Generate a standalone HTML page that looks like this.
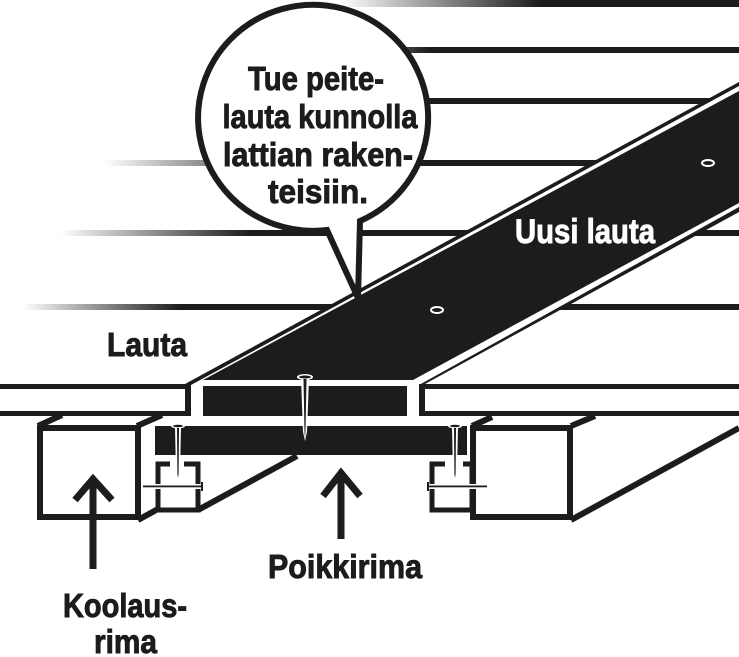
<!DOCTYPE html>
<html><head><meta charset="utf-8"><style>
html,body{margin:0;padding:0;background:#fff;}
svg{display:block;}
text{font-family:"Liberation Sans Narrow","Liberation Sans",sans-serif;font-weight:bold;}
</style></head><body>
<svg width="739" height="657" viewBox="0 0 739 657" xmlns="http://www.w3.org/2000/svg">
<defs>
<linearGradient id="g0" gradientUnits="userSpaceOnUse" x1="340" y1="0" x2="540" y2="0"><stop offset="0" stop-color="#fff"/><stop offset="1" stop-color="#1e1b1c"/></linearGradient>
<linearGradient id="g1" gradientUnits="userSpaceOnUse" x1="280" y1="0" x2="430" y2="0"><stop offset="0" stop-color="#fff"/><stop offset="1" stop-color="#1e1b1c"/></linearGradient>
<linearGradient id="g3" gradientUnits="userSpaceOnUse" x1="105" y1="0" x2="300" y2="0"><stop offset="0" stop-color="#fff"/><stop offset="1" stop-color="#1e1b1c"/></linearGradient>
<linearGradient id="g4" gradientUnits="userSpaceOnUse" x1="60" y1="0" x2="250" y2="0"><stop offset="0" stop-color="#fff"/><stop offset="1" stop-color="#1e1b1c"/></linearGradient>
<linearGradient id="g5" gradientUnits="userSpaceOnUse" x1="22" y1="0" x2="180" y2="0"><stop offset="0" stop-color="#fff"/><stop offset="1" stop-color="#1e1b1c"/></linearGradient>
</defs>
<g fill="#1e1b1c">
<rect x="330" y="0" width="409" height="7" fill="url(#g0)"/>
<rect x="280" y="47" width="459" height="6" fill="url(#g1)"/>
<rect x="300" y="98" width="439" height="6" fill="url(#g1)"/>
<rect x="105" y="160" width="634" height="6" fill="url(#g3)"/>
<rect x="60" y="230" width="679" height="6" fill="url(#g4)"/>
<rect x="22" y="304" width="717" height="6" fill="url(#g5)"/>
</g>
<polygon points="185,416 185,384 739,82 739,212 425,384 425,416" fill="#1e1b1c"/>
<polygon points="191,416 191,385 739,86 739,207 419,385 419,416" fill="#fff"/>
<polygon points="203,380 739,91 739,203 413,380" fill="#1e1b1c"/>
<rect x="203" y="386" width="204" height="30" fill="#1e1b1c"/>
<g fill="#1e1b1c">
<rect x="0" y="384" width="191" height="5"/>
<rect x="0" y="411" width="191" height="5"/>
<rect x="419" y="384" width="320" height="5"/>
<rect x="419" y="411" width="320" height="5"/>
<rect x="419" y="384" width="6" height="32"/>
</g>
<ellipse cx="708" cy="163" rx="6" ry="3" fill="#1e1b1c" stroke="#fff" stroke-width="2"/>
<ellipse cx="437" cy="310" rx="6" ry="3" fill="#1e1b1c" stroke="#fff" stroke-width="2"/>
<g fill="none" stroke="#1e1b1c" stroke-width="6">
<rect x="40" y="428" width="98" height="89"/>
<line x1="38" y1="426" x2="62" y2="415"/>
<line x1="137" y1="426" x2="162" y2="415"/>
<line x1="138" y1="520" x2="158" y2="509"/>
<line x1="198" y1="510" x2="297" y2="456"/>
<rect x="473" y="428" width="97" height="89"/>
<line x1="472" y1="426" x2="492" y2="417"/>
<line x1="571" y1="426" x2="595" y2="416"/>
<line x1="571" y1="520" x2="739" y2="428"/>
<path d="M170 464 H158 V510 H198 V464 H184" stroke-width="5"/>
<path d="M445 464 H432 V510 H472 V464 H463" stroke-width="5"/>
</g>
<rect x="155" y="426" width="312" height="29" fill="#1e1b1c"/>
<g>
<path d="M301 378 L309 378 L307 432 L305 441 L303 432 Z" fill="#fff"/>
<ellipse cx="305" cy="377" rx="8" ry="3" fill="#fff"/>
<path d="M303.5 379 L306.5 379 L305.5 432 L305 438 L304.5 432 Z" fill="#1e1b1c"/>
<ellipse cx="305" cy="377" rx="6" ry="1.5" fill="#1e1b1c"/>
<path d="M175 427 L181 427 L180 474 L178 481 L176 474 Z" fill="#fff"/>
<ellipse cx="178" cy="426" rx="7" ry="2.5" fill="#fff"/>
<path d="M177 428 L179 428 L178.6 474 L178 478 L177.4 474 Z" fill="#1e1b1c"/>
<ellipse cx="178" cy="426" rx="5" ry="1.2" fill="#1e1b1c"/>
<rect x="143" y="484" width="60" height="5" fill="#fff"/>
<rect x="143" y="485.5" width="58" height="1.8" fill="#1e1b1c"/>
<rect x="201" y="482" width="2" height="9" fill="#1e1b1c"/>
<path d="M452 427 L458 427 L457 474 L455 481 L453 474 Z" fill="#fff"/>
<ellipse cx="455" cy="426" rx="7" ry="2.5" fill="#fff"/>
<path d="M454 428 L456 428 L455.6 474 L455 478 L454.4 474 Z" fill="#1e1b1c"/>
<ellipse cx="455" cy="426" rx="5" ry="1.2" fill="#1e1b1c"/>
<rect x="427" y="484" width="60" height="5" fill="#fff"/>
<rect x="429" y="485.5" width="58" height="1.8" fill="#1e1b1c"/>
<rect x="427" y="482" width="2" height="9" fill="#1e1b1c"/>
</g>
<g fill="none" stroke="#1e1b1c" stroke-width="7">
<line x1="93" y1="480" x2="93" y2="569"/>
<polyline points="75,500 93,479 112,500"/>
<line x1="341" y1="473" x2="341" y2="539"/>
<polyline points="323,496 341,473 360,496"/>
</g>
<path d="M327 230 A115 113 0 1 1 360 221 L358 298 Z" fill="#fff" stroke="#1e1b1c" stroke-width="6" stroke-linejoin="miter"/>
<g fill="#1e1b1c" stroke="#1e1b1c" stroke-width="0.9" font-size="33" text-anchor="middle">
<text x="316" y="90" textLength="136" lengthAdjust="spacingAndGlyphs">Tue peite-</text>
<text x="320" y="128" textLength="195" lengthAdjust="spacingAndGlyphs">lauta kunnolla</text>
<text x="318" y="166" textLength="190" lengthAdjust="spacingAndGlyphs">lattian raken-</text>
<text x="318" y="203" textLength="100" lengthAdjust="spacingAndGlyphs">teisiin.</text>
</g>
<g fill="#1e1b1c" stroke="#1e1b1c" stroke-width="0.9" font-size="33">
<text x="107" y="356" textLength="80" lengthAdjust="spacingAndGlyphs">Lauta</text>
<text x="268" y="578" textLength="154" lengthAdjust="spacingAndGlyphs">Poikkirima</text>
<text x="63" y="617" textLength="124" lengthAdjust="spacingAndGlyphs">Koolaus-</text>
<text x="94" y="653" textLength="63" lengthAdjust="spacingAndGlyphs">rima</text>
</g>
<text x="515" y="243" font-size="34" fill="#fff" stroke="#fff" stroke-width="0.9" textLength="140" lengthAdjust="spacingAndGlyphs">Uusi lauta</text>
</svg>
</body></html>
